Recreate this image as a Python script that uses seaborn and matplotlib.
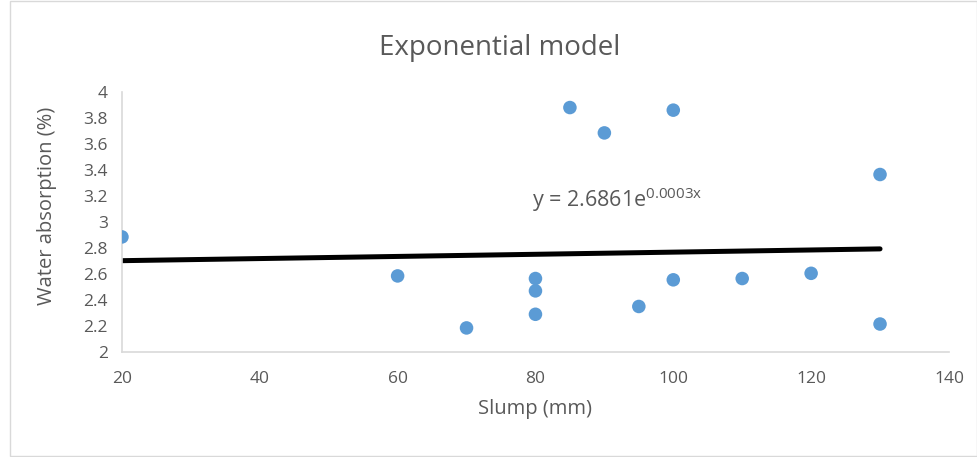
import numpy as np
import pandas as pd
import matplotlib.pyplot as plt
import seaborn as sns
from matplotlib.patches import Rectangle

# Slump vs water absorption readings
slump = [20, 60, 70, 80, 80, 80, 85, 90, 95, 100, 100, 110, 120, 130, 130]
absorption = [2.885, 2.585, 2.185, 2.565, 2.47, 2.29, 3.88, 3.685, 2.35, 3.86, 2.555, 2.565, 2.605, 3.365, 2.215]

# Exponential trendline coefficients (y = a * e^(b x))
coef_a = 2.6861
coef_b = 0.0003

df = pd.DataFrame({"Slump": slump, "Absorption": absorption})

sns.set_style("white")
plt.rcParams['font.family'] = ['Open Sans', 'DejaVu Sans']
plt.rcParams['mathtext.fontset'] = 'custom'
plt.rcParams['mathtext.rm'] = 'Open Sans'
grey = "#595959"

fig = plt.figure(figsize=(9.78, 4.57), dpi=100)
ax = fig.add_axes([0.1247, 0.2298, 0.8456, 0.569])

# trendline
xs = np.linspace(min(slump), max(slump), 50)
ax.plot(xs, coef_a * np.exp(coef_b * xs), color="black", linewidth=3.6, zorder=2)

sns.scatterplot(data=df, x="Slump", y="Absorption", color="#5B9BD5", s=95,
                edgecolor="none", ax=ax, zorder=3)

ax.set_xlim(20, 140)
ax.set_ylim(2, 4)
ax.set_xticks(range(20, 141, 20))
ax.set_yticks(np.arange(2, 4.01, 0.2))
ax.set_yticklabels(["2", "2.2", "2.4", "2.6", "2.8", "3", "3.2", "3.4", "3.6", "3.8", "4"])
ax.tick_params(axis="both", length=0, labelsize=12.5, labelcolor=grey)
ax.tick_params(axis="x", pad=14)
ax.tick_params(axis="y", pad=10)

for side in ["top", "right"]:
    ax.spines[side].set_visible(False)
for side in ["left", "bottom"]:
    ax.spines[side].set_color("#d9d9d9")
    ax.spines[side].set_linewidth(1.2)

ax.set_xlabel("Slump (mm)", fontsize=14.5, color=grey, labelpad=8)
ax.set_ylabel("Water absorption (%)", fontsize=14.5, color=grey)
ax.yaxis.set_label_coords(-0.079, 0.56)
fig.suptitle("Exponential model", fontsize=20, color=grey, x=0.511, y=0.925)

ax.text(79.5, 3.17, r"y = 2.6861e$^{\mathrm{0.0003x}}$", fontsize=15.5, color=grey, va="center")

fig.patches.append(Rectangle((10 / 978, 0.003), 1 - 11 / 978, 0.994, transform=fig.transFigure,
                             fill=False, edgecolor="#d9d9d9", linewidth=1))

plt.savefig("out.png", dpi=100)
